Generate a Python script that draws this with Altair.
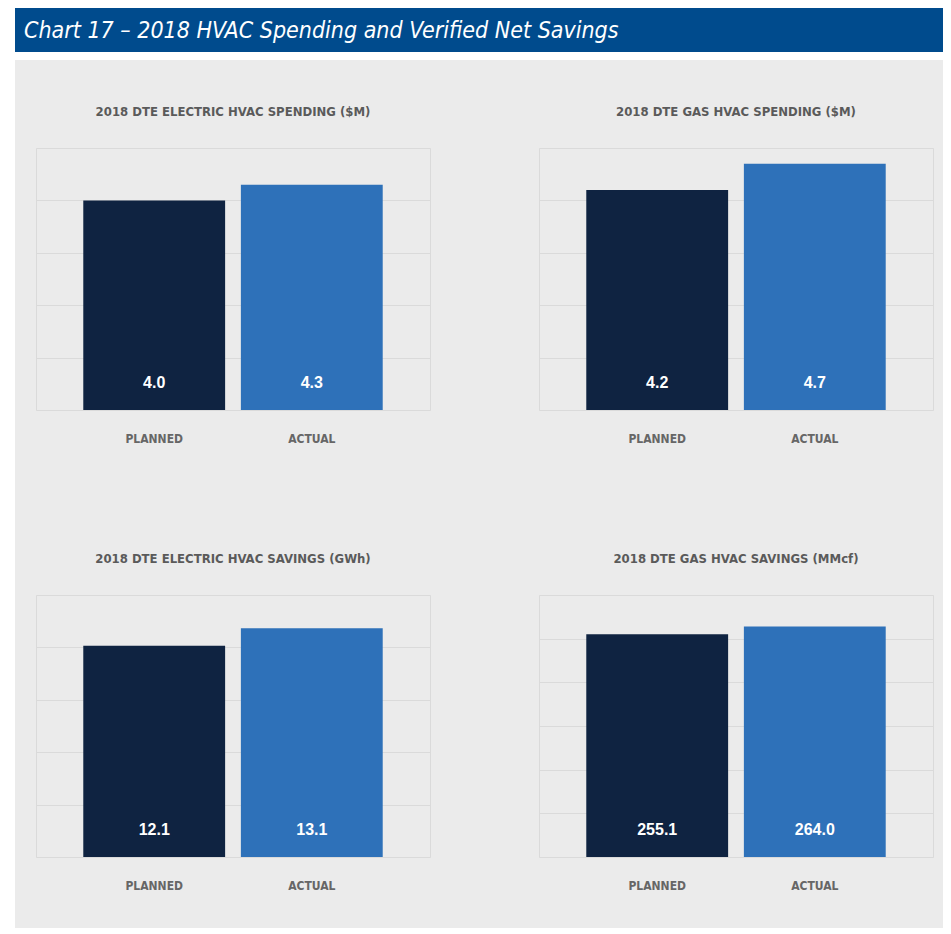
import altair as alt
import pandas as pd

# ---- data ----
categories = ["PLANNED", "ACTUAL"]
header_title = "Chart 17 – 2018 HVAC Spending and Verified Net Savings"
panel_titles = [
    "2018 DTE ELECTRIC HVAC SPENDING ($M)",
    "2018 DTE GAS HVAC SPENDING ($M)",
    "2018 DTE ELECTRIC HVAC SAVINGS (GWh)",
    "2018 DTE GAS HVAC SAVINGS (MMcf)",
]
elec_spending = [4.0, 4.3]
gas_spending = [4.2, 4.7]
elec_savings = [12.1, 13.1]
gas_savings = [255.1, 264.0]
ticks_spending = [0, 1, 2, 3, 4, 5]
ticks_elec_savings = [0, 3, 6, 9, 12, 15]
ticks_gas_savings = [0, 50, 100, 150, 200, 250, 300]

COND = "Liberation Sans Narrow, DejaVu Sans Condensed, sans-serif"
GRID = "#DADADA"
PANEL_BG = "#EBEBEB"
BAR_COLORS = ["#0F2341", "#2E71B9"]


def panel(title, values, ticks):
    df = pd.DataFrame({"cat": categories, "val": values})
    base = alt.Chart(df)
    x = alt.X(
        "cat:N",
        sort=categories,
        scale=alt.Scale(paddingInner=0.1, paddingOuter=0.3),
        axis=alt.Axis(
            title=None, labelAngle=0, domain=False, ticks=False, labelPadding=23,
            labelFont=COND, labelFontSize=12, labelFontWeight="bold", labelColor="#666666",
        ),
    )
    y = alt.Y(
        "val:Q",
        scale=alt.Scale(domain=[ticks[0], ticks[-1]], nice=False),
        axis=alt.Axis(
            title=None, labels=False, ticks=False, domain=False, values=ticks,
            gridColor=GRID, gridWidth=1,
        ),
    )
    bars = base.mark_bar().encode(
        x=x,
        y=y,
        color=alt.Color("cat:N", scale=alt.Scale(domain=categories, range=BAR_COLORS), legend=None),
    )
    labels = base.mark_text(
        font="Liberation Sans, Arial, sans-serif", fontSize=16, fontWeight="bold",
        color="white", baseline="middle", dy=-27,
    ).encode(
        x=alt.X("cat:N", sort=categories),
        y=alt.datum(0),
        text=alt.Text("val:Q", format=".1f"),
    )
    return alt.layer(bars, labels).properties(
        width=394,
        height=262,
        title=alt.TitleParams(
            title, font=COND, fontSize=13, fontWeight="bold", color="#5A5A5A",
            baseline="middle", offset=23, anchor="middle",
        ),
        view=alt.ViewBackground(fill=PANEL_BG, stroke=GRID, strokeWidth=1),
    )


p1 = panel(panel_titles[0], elec_spending, ticks_spending)
p2 = panel(panel_titles[1], gas_spending, ticks_spending)
p3 = panel(panel_titles[2], elec_savings, ticks_elec_savings)
p4 = panel(panel_titles[3], gas_savings, ticks_gas_savings)

grid = alt.vconcat(
    alt.hconcat(p1, p2, spacing=107),
    alt.hconcat(p3, p4, spacing=107),
    spacing=107,
)

hdr_df = pd.DataFrame({"t": [header_title]})
hdr_rect = alt.Chart(hdr_df).mark_rect(color="#004B8D").encode(
    x=alt.value(7), x2=alt.value(935), y=alt.value(0), y2=alt.value(44)
)
hdr_gray = alt.Chart(hdr_df).mark_rect(color=PANEL_BG).encode(
    x=alt.value(7), x2=alt.value(935), y=alt.value(52), y2=alt.value(97)
)
hdr_text = alt.Chart(hdr_df).mark_text(
    align="left", baseline="alphabetic", font=COND, fontSize=23,
    fontStyle="italic", color="white",
).encode(x=alt.value(16), y=alt.value(30), text="t:N")
header = alt.layer(hdr_rect, hdr_gray, hdr_text).properties(
    width=935, height=97, view=alt.ViewBackground(fill="white", stroke=None)
)

# white strip on the left edge, as in the original page
spacer = alt.Chart(hdr_df).mark_rect(color="white").encode(
    x=alt.value(0), x2=alt.value(7), y=alt.value(-43), y2=alt.value(780)
).properties(width=7, height=780, view=alt.ViewBackground(stroke=None))

chart = alt.vconcat(
    header,
    alt.hconcat(spacer, grid, spacing=20),
    spacing=0,
).configure(
    background=PANEL_BG,
    padding={"left": 0, "top": 0, "right": 0, "bottom": 0},
)

chart.save("out.html", embed_options={"renderer": "svg", "actions": False})
